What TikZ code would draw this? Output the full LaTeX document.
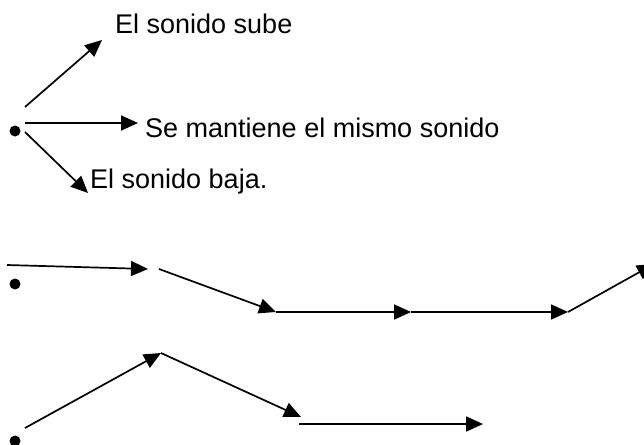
\documentclass[tikz,border=0pt]{standalone}
\usepackage{fontspec}
\setmainfont{Liberation Sans}
\usetikzlibrary{arrows.meta,positioning}

\begin{document}
\begin{tikzpicture}[x=1pt,y=-1pt,
  flecha/.style={-{Triangle[length=17pt,width=15pt]},line width=1.7pt},
  punto/.style={circle,fill=black,inner sep=0pt,minimum size=11pt},
  etiqueta/.style={anchor=base west,inner sep=0pt,font=\fontsize{27}{32}\selectfont}]
  \useasboundingbox (0,0) rectangle (644,444);

  %% Los tres movimientos del sonido
  \node[punto] (p0) at (15,131) {};
  \coordinate (sube0) at (25,107);
  \coordinate (sube1) at (102,40);
  \coordinate (igual0) at (25,123);
  \coordinate (igual1) at (138,123);
  \coordinate (baja0) at (25,132);
  \coordinate (baja1) at (88,193);
  \draw[flecha] (sube0) -- (sube1);
  \draw[flecha] (igual0) -- (igual1);
  \draw[flecha] (baja0) -- (baja1);
  \node[etiqueta] (tsube) at (115,34) {El sonido sube};
  \node[etiqueta] (tigual) at (145,137) {Se mantiene el mismo sonido};
  \node[etiqueta] (tbaja) at (90,188) {El sonido baja.};

  %% Primera melodia
  \node[punto] (p1) at (15,284) {};
  \coordinate (m0) at (7,265);
  \coordinate (m1) at (148,269);
  \coordinate (m2) at (159,269);
  \coordinate (m3) at (276,312);
  \coordinate (m4) at (411,312);
  \coordinate (m5) at (568,312);
  \coordinate (m6) at (654,264);
  \draw[flecha] (m0) -- (m1);
  \draw[flecha] (m2) -- (m3);
  \draw[flecha] (m3) -- (m4);
  \draw[flecha] (m4) -- (m5);
  \draw[flecha] (m5) -- (m6);

  %% Segunda melodia
  \node[punto] (p2) at (15,441) {};
  \coordinate (n0) at (25,428);
  \coordinate (n1) at (161,353);
  \coordinate (n2) at (301,417);
  \coordinate (n3) at (299,424);
  \coordinate (n4) at (483,424);
  \draw[flecha] (n0) -- (n1);
  \draw[flecha] (n1) -- (n2);
  \draw[flecha] (n3) -- (n4);
\end{tikzpicture}
\end{document}
